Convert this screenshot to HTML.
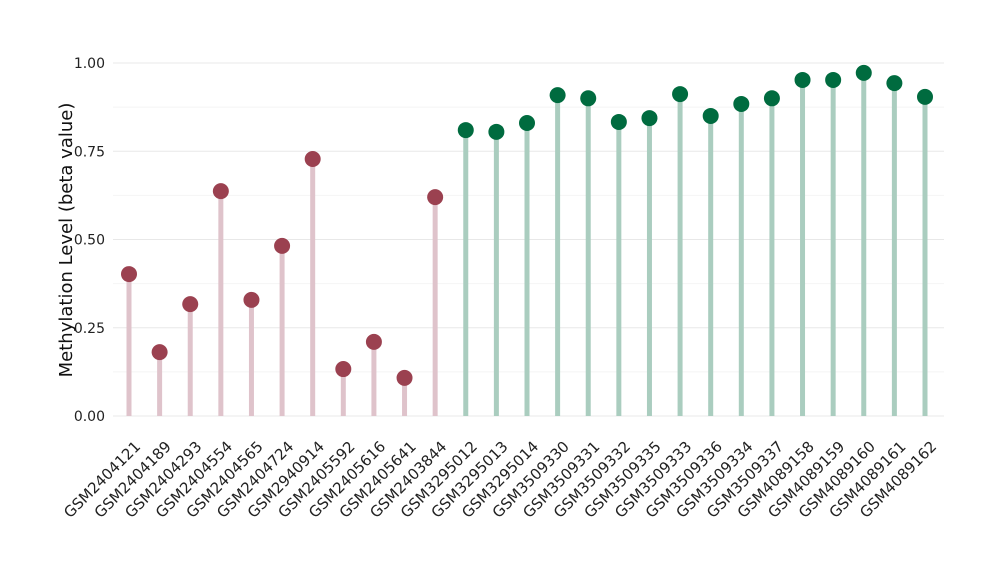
<!DOCTYPE html>
<html><head><meta charset="utf-8"><style>body{margin:0;background:#fff}svg{display:block;font-family:"DejaVu Sans","Liberation Sans",sans-serif}</style></head>
<body>
<svg id="c" width="1000" height="580"></svg>
<script>
const categories=["GSM2404121","GSM2404189","GSM2404293","GSM2404554","GSM2404565","GSM2404724","GSM2940914","GSM2405592","GSM2405616","GSM2405641","GSM2403844","GSM3295012","GSM3295013","GSM3295014","GSM3509330","GSM3509331","GSM3509332","GSM3509335","GSM3509333","GSM3509336","GSM3509334","GSM3509337","GSM4089158","GSM4089159","GSM4089160","GSM4089161","GSM4089162"];
const values=[0.402,0.181,0.317,0.637,0.329,0.482,0.728,0.133,0.21,0.108,0.62,0.81,0.805,0.83,0.909,0.90,0.833,0.844,0.912,0.85,0.884,0.90,0.952,0.952,0.972,0.943,0.904];
const groups=["a","a","a","a","a","a","a","a","a","a","a","b","b","b","b","b","b","b","b","b","b","b","b","b","b","b","b"];
const yTicks=[0,0.25,0.5,0.75,1.0];
const yTickLabels=["0.00","0.25","0.50","0.75","1.00"];
const NS="http://www.w3.org/2000/svg",svg=document.getElementById('c');
const x0=113,x1=944,y0=416,y1=63;
const y=v=>y0-(y0-y1)*v;
const step=(925-129)/(categories.length-1);
const x=i=>129+i*step;
function mk(t,a,p){const e=document.createElementNS(NS,t);for(const k in a)e.setAttribute(k,a[k]);(p||svg).appendChild(e);return e;}
const col={a:{s:"#dfc3cb",d:"#9b4150"},b:{s:"#aacdbf",d:"#006b3f"}};
for(let v=0;v<=1.0001;v+=0.125){const g=mk('line',{x1:x0,x2:x1,y1:y(v),y2:y(v),stroke:Math.round(v*8)%2?"#f4f4f4":"#e8e8e8","stroke-width":1});

}
yTicks.forEach((v,i)=>{const t=mk('text',{x:105,y:y(v)+5,"text-anchor":"end","font-size":14,fill:"#222"});t.textContent=yTickLabels[i];

});
const yt=mk('text',{x:72,y:240,"text-anchor":"middle","font-size":18,fill:"#111",transform:"rotate(-90 72 240)"});yt.textContent="Methylation Level (beta value)";


categories.forEach((c,i)=>{const cc=col[groups[i]];
const s=mk('line',{x1:x(i),x2:x(i),y1:y0,y2:y(values[i]),stroke:cc.s,"stroke-width":5});


const d=mk('circle',{cx:x(i),cy:y(values[i]),r:8,fill:cc.d});


const lx=x(i)+5,ly=440;
const t=mk('text',{x:lx,y:ly,"text-anchor":"end","font-size":15,fill:"#222",transform:`rotate(-45 ${lx} ${ly})`,dy:"0.7em"});t.textContent=c;

});
</script>
</body></html>
